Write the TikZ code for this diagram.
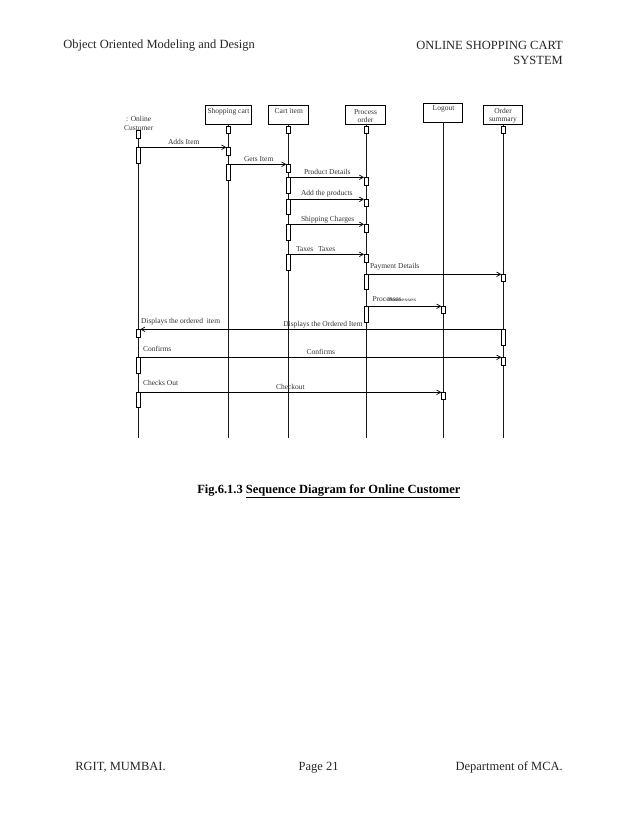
\documentclass[tikz,border=0pt]{standalone}
\usepackage{fontspec}
\setmainfont{Liberation Serif}
\usetikzlibrary{arrows.meta}
\tikzset{
 x=1pt,y=-1pt,
 objbox/.style={draw=black,line width=0.9pt,fill=white,minimum width=#1,minimum height=19pt,inner sep=0pt,outer sep=0pt},
 actv/.style={draw=black,line width=0.85pt,fill=white,minimum width=4pt,minimum height=#1,inner sep=0pt,outer sep=0pt,anchor=north},
 life/.style={draw=black!90,line width=0.7pt},
 msg/.style={draw=black,line width=0.8pt,-{Straight Barb[length=4pt,width=4.5pt,line width=0.7pt]}},
 lab/.style={inner sep=0pt,outer sep=0pt,font=\fontsize{7.5}{8}\selectfont,text=black!80},
 boxt/.style={lab,align=center,anchor=center},
 page/.style={inner sep=0pt,outer sep=0pt,font=\fontsize{12.5}{14}\selectfont,text=black!85},
}
\begin{document}
\begin{tikzpicture}
\useasboundingbox (0,0) rectangle (638,826);
\fill[white] (0,0) rectangle (638,826);
% page text
\node[page,anchor=west] (hl) at (63.3,45.3) {Object Oriented Modeling and Design};
\node[page,anchor=east] (hr1) at (562.8,45.3) {ONLINE SHOPPING CART};
\node[page,anchor=east] (hr2) at (562.8,60.5) {SYSTEM};
\node[page,anchor=west] (fl) at (75.3,767.6) {RGIT, MUMBAI.};
\node[page,anchor=center] (fc) at (318.6,767.6) {Page 21};
\node[page,anchor=east] (fr) at (562.8,767.6) {Department of MCA.};
\node[page,anchor=west,font=\fontsize{12.5}{14}\selectfont\bfseries,text=black] (cap) at (197.3,491) {Fig.6.1.3 \underline{Sequence Diagram for Online Customer}};
% objects
\node[objbox=46pt] (bs) at (228.5,114.8) {};
\node[objbox=40.5pt] (bi) at (288.6,114.8) {};
\node[objbox=40.5pt] (bp) at (365.5,114.8) {};
\node[objbox=39.5pt] (bl) at (443,112.8) {};
\node[objbox=39pt] (bo) at (502.8,114.8) {};
\node[boxt] (ts) at (228.5,111.7) {Shopping cart};
\node[boxt] (ti) at (288.8,111.5) {Cart item};
\node[boxt,font=\fontsize{7.5}{8}\selectfont] (tp) at (365.5,115.7) {Process\\order};
\node[boxt] (tl) at (443.5,109.3) {Logout};
\node[boxt,font=\fontsize{7.5}{8}\selectfont] (to) at (503,115.7) {Order\\summary};
\node[boxt,font=\fontsize{7.5}{9}\selectfont] (tc) at (138.7,123.8) {: Online\\Customer};
% lifeline ends
\coordinate (ec) at (138.3,438);
\coordinate (es) at (228.3,438);
\coordinate (ei) at (288.3,438);
\coordinate (ep) at (366,438);
\coordinate (el) at (443.3,438);
\coordinate (eo) at (503.3,438);
\node[actv=8pt] (c1) at (138.3,130.3) {};
\draw[life] (c1.south) -- (ec);
\draw[life] (bs.south -| es) -- (es);
\draw[life] (bi.south -| ei) -- (ei);
\draw[life] (bp.south -| ep) -- (ep);
\draw[life] (bl.south -| el) -- (el);
\draw[life] (bo.south -| eo) -- (eo);
% activations
\node[actv=16pt] (c2) at (138.3,147.3) {};
\node[actv=8pt] (c3) at (138.3,329.3) {};
\node[actv=16pt] (c4) at (138.3,357.3) {};
\node[actv=15pt] (c5) at (138.3,392.3) {};
\node[actv=7.3pt] (s1) at (228.3,126) {};
\node[actv=8pt] (s2) at (228.3,147.3) {};
\node[actv=16pt] (s3) at (228.3,164.3) {};
\node[actv=7.3pt] (i1) at (288.3,126) {};
\node[actv=8pt] (i2) at (288.3,164.3) {};
\node[actv=16pt] (i3) at (288.3,177.3) {};
\node[actv=15pt] (i4) at (288.3,199.3) {};
\node[actv=16pt] (i5) at (288.3,224.3) {};
\node[actv=16pt] (i6) at (288.3,254.3) {};
\node[actv=7.3pt] (p1) at (366,126) {};
\node[actv=8pt] (p2) at (366,177.3) {};
\node[actv=7.4pt] (p3) at (366,199.3) {};
\node[actv=8.4pt] (p4) at (366,224.3) {};
\node[actv=8.4pt] (p5) at (366,254.3) {};
\node[actv=15pt] (p6) at (366,274.3) {};
\node[actv=16pt] (p7) at (366,306.3) {};
\node[actv=7pt] (l2) at (443.3,306.3) {};
\node[actv=7.4pt] (l3) at (443.3,392.3) {};
\node[actv=7.3pt] (o1) at (503.3,126) {};
\node[actv=7pt] (o2) at (503.3,274.3) {};
\node[actv=16pt] (o3) at (503.3,329.3) {};
\node[actv=8pt] (o4) at (503.3,357.3) {};
% messages
\draw[msg] (c2.north east) -- (s2.north west);
\draw[msg] (s3.north east) -- (i2.north west);
\draw[msg] (i3.north east) -- (p2.north west);
\draw[msg] (i4.north east) -- (p3.north west);
\draw[msg] (i5.north east) -- (p4.north west);
\draw[msg] (i6.north east) -- (p5.north west);
\draw[msg] (p6.north east) -- (o2.north west);
\draw[msg] (p7.north east) -- (l2.north west);
\draw[msg] (o3.north west) -- (c3.north east);
\draw[msg] (c4.north east) -- (o4.north west);
\draw[msg] (c5.north east) -- (l3.north west);
% labels
\node[lab,anchor=west] (m1) at (168,141.5) {Adds Item};
\node[lab,anchor=west] (m2) at (244,159.3) {Gets Item};
\node[lab,anchor=west] (m3) at (304,172.3) {Product Details};
\node[lab,anchor=west] (m4) at (301,193.3) {Add the products};
\node[lab,anchor=west] (m5) at (301,219.3) {Shipping Charges};
\node[lab,anchor=west] (m6a) at (296,248.7) {Taxes};
\node[lab,anchor=west] (m6b) at (318,248.7) {Taxes};
\node[lab,anchor=west] (m7) at (370,266.7) {Payment Details};
\node[lab,anchor=west] (m8a) at (372.5,299.3) {Processes};
\node[lab,anchor=west,font=\fontsize{5}{6}\selectfont,xscale=1.45] (m8b) at (388,299.8) {Processes};
\node[lab,anchor=west] (m9a) at (141,321.7) {Displays the ordered\ \ item};
\node[lab,anchor=west] (m9b) at (283.3,324.3) {Displays the Ordered Item};
\node[lab,anchor=west] (m10a) at (143,349.3) {Confirms};
\node[lab,anchor=west] (m10b) at (306.7,352.3) {Confirms};
\node[lab,anchor=west] (m11a) at (143,383.3) {Checks Out};
\node[lab,anchor=west] (m11b) at (276,386.7) {Checkout};
\end{tikzpicture}
\end{document}
